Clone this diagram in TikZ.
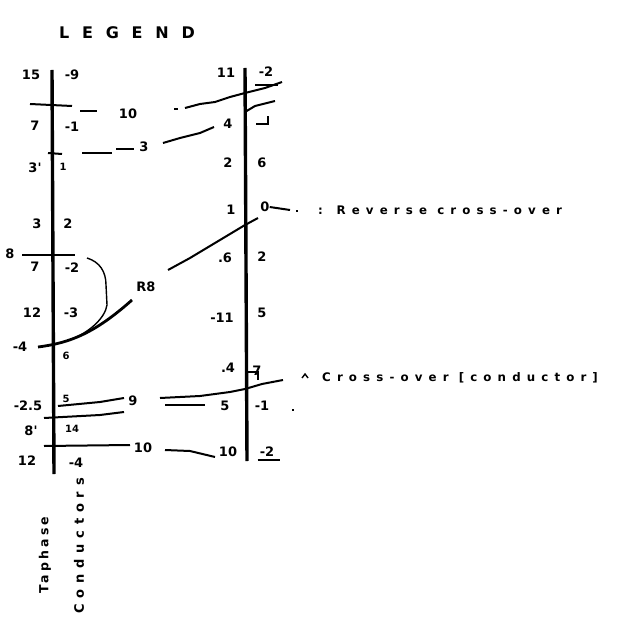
\documentclass[tikz,border=0pt]{standalone}
\usepackage{fontspec}
\setmainfont{DejaVu Sans}
\newfontfamily\lbl{DejaVu Sans Bold}
\newfontfamily\spaced[LetterSpace=45]{DejaVu Sans Bold}
\newfontfamily\spacedc[LetterSpace=52]{DejaVu Sans Bold}
\newfontfamily\spacedb[LetterSpace=25]{DejaVu Sans Bold}
\begin{document}
\begin{tikzpicture}[x=1pt,y=-1pt,
  lab/.style={font=\lbl\fontsize{13}{13}\selectfont,inner sep=0pt},
  small/.style={font=\lbl\fontsize{10}{10}\selectfont,inner sep=0pt},
  legendtext/.style={font=\spacedc\fontsize{11.8}{11.8}\selectfont,inner sep=0pt,anchor=west},
  coltitle/.style={font=\spacedb\fontsize{12.5}{12.5}\selectfont,rotate=90,inner sep=0pt},
  pole/.style={line width=3.4pt},
  wire/.style={line width=2pt},
  thin/.style={line width=1.4pt}]
\useasboundingbox (0,0) rectangle (616,644);
% title
\node[font=\spaced\fontsize{16}{16}\selectfont,inner sep=0pt] (title) at (127,33) {L E G E N D};
% poles
\coordinate (Ltop) at (52,70); \coordinate (Lbot) at (54,474);
\coordinate (Rtop) at (245,68); \coordinate (Rbot) at (247,461);
\draw[pole] (Ltop) -- (Lbot);
\draw[pole] (Rtop) -- (Rbot);
% left labels
\node[lab] (l15) at (31,75) {15};
\node[lab] (lm9) at (72,75) {-9};
\node[lab] (l7) at (35,126) {7};
\node[lab] (lm1) at (72,127) {-1};
\node[lab] (l3p) at (35,168) {3'};
\node[small] (l1p) at (63,167) {1};
\node[lab] (l3) at (37,224) {3};
\node[lab] (l2) at (68,224) {2};
\node[lab] (l8) at (10,254) {8};
\node[lab] (l7b) at (35,267) {7};
\node[lab] (lm2) at (72,268) {-2};
\node[lab] (l12) at (32,313) {12};
\node[lab] (lm3) at (71,313) {-3};
\node[lab] (lm4) at (20,347) {-4};
\node[small] (l6) at (66,356) {6};
\node[lab] (lm25) at (28,406) {-2.5};
\node[small] (l5s) at (66,399) {5};
\node[lab] (l8p) at (31,431) {8'};
\node[small] (l14) at (72,429) {14};
\node[lab] (l12b) at (27,461) {12};
\node[lab] (lm4b) at (76,463) {-4};
% middle labels
\node[lab] (m10) at (128,114) {10};
\node[lab] (m3) at (144,147) {3};
\node[lab] (mR) at (146,287) {R8};
\node[lab] (m9) at (133,401) {9};
\node[lab] (m10b) at (143,448) {10};
% right labels
\node[lab] (r11) at (226,73) {11};
\node[lab] (rm2) at (266,72) {-2};
\node[lab] (r4) at (228,124) {4};
\node[lab] (r2) at (228,163) {2};
\node[lab] (r6) at (262,163) {6};
\node[lab] (r1) at (231,210) {1};
\node[lab] (r0) at (265,207) {0};
\node[lab] (r6b) at (225,258) {.6};
\node[lab] (r2b) at (262,257) {2};
\node[lab] (r11b) at (222,318) {-11};
\node[lab] (r5) at (262,313) {5};
\node[lab] (r4b) at (228,368) {.4};
\node[lab] (r7) at (257,371) {7};
\node[lab] (r5b) at (225,406) {5};
\node[lab] (rm1) at (262,406) {-1};
\node[lab] (r10) at (228,452) {10};
\node[lab] (rm2b) at (267,452) {-2};
\draw[wire] (rm2b.south west) ++(-2,3) -- ++(22,0);
% legend texts
\node[legendtext] (rev) at (318,210) {: Reverse cross-over};
\node[legendtext] (cro) at (322,378) {Cross-over [conductor]};
% rotated column titles
\node[coltitle] (tap) at (45,555) {Taphase};
\node[font=\spaced\fontsize{13}{13}\selectfont,rotate=90,inner sep=0pt] (con) at (79,546) {Conductors};
% wire 10 (top)
\coordinate (a1) at (30,104); \coordinate (a2) at (72,106);
\draw[wire] (a1) -- (a2);
\draw[wire] (80,111) -- (97,111);
\draw[wire] (185,108) -- (200,104) -- (215,102) -- (230,97) -- (245,93) -- (265,88) -- (282,82);
\draw[wire] (255,85) -- (278,85);
\draw[thin] (174,109) -- (178,109);
% wire 3
\draw[wire] (48,153) -- (62,154);
\draw[wire] (82,153) -- (112,153);
\draw[wire] (116,149) -- (134,149);
\draw[wire] (163,143) -- (180,138) -- (200,133) -- (214,127);
\draw[wire] (245,112) -- (255,106) -- (275,101);
\draw[wire] (256,124) -- (268,124) -- (268,116);
% bracket between 8 and curve
\draw[wire] (22,255) -- (75,255);
\draw[thin] (87,258) .. controls (100,262) and (106,272) .. (106,285)
  -- (107,305) .. controls (105,318) and (90,332) .. (70,340);
% reverse cross-over curve
\draw[line width=2.8pt] (38,347) .. controls (70,343) and (95,333) .. (132,300);
\draw[wire] (168,270) -- (190,258) -- (215,243) -- (245,225) -- (258,218);
\draw[wire] (r0.east) -- (290,210);
\draw[wire] (296,211) -- (298,211);
% cross-over (bottom right)
\draw[wire] (245,372) -- (258,372) -- (258,380);
\draw[wire] (160,398) -- (200,396) -- (230,392) -- (245,389) -- (262,384) -- (283,380);
\draw[wire] (165,405) -- (205,405);
\draw[thin] (292,410) -- (294,410);
\draw[thin] (302,378) -- (305,374) -- (308,378);
% left crossovers (bottom)
\draw[wire] (58,406) -- (100,402) -- (124,398);
\draw[wire] (44,418) -- (100,415) -- (124,412);
\draw[wire] (44,446) -- (130,445);
\draw[wire] (165,450) -- (190,451) -- (215,457);
\end{tikzpicture}
\end{document}
